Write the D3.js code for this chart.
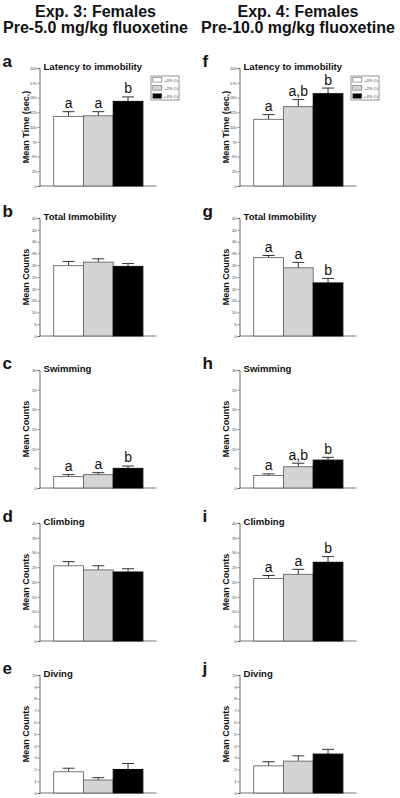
<!DOCTYPE html>
<html><head><meta charset="utf-8">
<script src="https://cdn.jsdelivr.net/npm/d3@7"></script>
<style>
html,body{margin:0;padding:0;background:#fff;}
svg{display:block;font-family:"Liberation Sans",Arial,sans-serif;}
</style></head>
<body><svg id="c" width="400" height="798"></svg>
<script>
// ---- data ----
const groups = ["+0% Cr", "+2% Cr", "+4% Cr"];
const groupColors = ["#ffffff", "#d4d4d4", "#000000"];
const columnHeaders = [
  ["Exp. 3: Females", "Pre-5.0 mg/kg fluoxetine"],
  ["Exp. 4: Females", "Pre-10.0 mg/kg fluoxetine"]
];
const measures = ["Latency to immobility", "Total Immobility", "Swimming", "Climbing", "Diving"];
const yTitles = ["Mean Time (sec.)", "Mean Counts", "Mean Counts", "Mean Counts", "Mean Counts"];
const yMax = [200, 50, 30, 40, 10];
const yStep = [25, 5, 5, 5, 1];
const panelLetters = [["a","b","c","d","e"], ["f","g","h","i","j"]];

// Exp. 3 (left column) means and SEM
const exp3Means = [[118, 119, 143.5], [29.8, 31.3, 29.5], [2.9, 3.4, 5.0], [25.5, 24.1, 23.4], [1.8, 1.1, 2.0]];
const exp3Sem   = [[8, 7, 7.5], [1.8, 1.4, 1.2], [0.5, 0.5, 0.6], [1.4, 1.4, 1.1], [0.3, 0.2, 0.5]];
const exp3Sig   = [["a","a","b"], null, ["a","a","b"], null, null];
// Exp. 4 (right column)
const exp4Means = [[113, 134.5, 156.5], [33.2, 28.9, 22.5], [3.2, 5.4, 7.1], [21.2, 22.6, 26.7], [2.3, 2.7, 3.3]];
const exp4Sem   = [[8, 12, 9.5], [0.9, 2.3, 1.9], [0.4, 0.9, 0.7], [1.0, 1.7, 1.9], [0.35, 0.45, 0.4]];
const exp4Sig   = [["a","a,b","b"], ["a","a","b"], ["a","a,b","b"], ["a","a","b"], null];

// ---- layout ----
const svg = d3.select("#c");
const colAxisX = [39.5, 239.5];
const colCenter = [95.5, 298];
const rowTop = [68, 218, 370, 523, 675];
const plotH = 118;

const cols = [
  {means: exp3Means, sem: exp3Sem, sig: exp3Sig},
  {means: exp4Means, sem: exp4Sem, sig: exp4Sig}
];

columnHeaders.forEach((lines, ci) => {
  lines.forEach((t, li) => {
    svg.append("text").attr("x", colCenter[ci]).attr("y", 17 + li * 15.5)
      .attr("text-anchor", "middle").attr("font-size", 16).attr("font-weight", "bold")
      .attr("fill", "#111").text(t);
  });
});

cols.forEach((col, ci) => {
  const ax = colAxisX[ci];
  measures.forEach((m, ri) => {
    const top = rowTop[ri];
    const bottom = top + plotH;
    const g = svg.append("g");
    const y = d3.scaleLinear().domain([0, yMax[ri]]).range([bottom, top]);
    const x = d3.scaleBand().domain(groups).range([ax + 14.2, ax + 103.4]).padding(0);

    // y axis
    const ticks = d3.range(0, yMax[ri] + yStep[ri] / 2, yStep[ri]);
    const yAxis = d3.axisLeft(y).tickValues(ticks).tickSize(2).tickPadding(0.8).tickFormat(d3.format("d"));
    const ag = g.append("g").attr("transform", `translate(${ax},0)`).call(yAxis);
    ag.select(".domain").attr("stroke", "#555").attr("stroke-width", 0.9);
    ag.selectAll(".tick line").attr("stroke", "#555").attr("stroke-width", 0.7);
    ag.selectAll(".tick text").attr("font-size", 4.2).attr("fill", "#444").attr("font-family", "Liberation Sans, Arial, sans-serif");
    // x axis baseline
    g.append("line").attr("x1", ax).attr("x2", ax + 117).attr("y1", y(0)).attr("y2", y(0))
      .attr("stroke", "#666").attr("stroke-width", 0.9);

    // bars
    groups.forEach((gr, k) => {
      const v = col.means[ri][k], s = col.sem[ri][k];
      const bx = x(gr), bw = x.bandwidth();
      const cx = bx + bw / 2;
      // error bar (upward only)
      g.append("line").attr("x1", cx).attr("x2", cx).attr("y1", y(v)).attr("y2", y(v + s))
        .attr("stroke", "#333").attr("stroke-width", 1);
      g.append("line").attr("x1", cx - 6).attr("x2", cx + 6).attr("y1", y(v + s)).attr("y2", y(v + s))
        .attr("stroke", "#333").attr("stroke-width", 1);
      g.append("rect").attr("x", bx).attr("y", y(v)).attr("width", bw).attr("height", y(0) - y(v))
        .attr("fill", groupColors[k]).attr("stroke", k === 2 ? "#000" : "#666").attr("stroke-width", 0.9);
      if (col.sig[ri]) {
        g.append("text").attr("x", cx).attr("y", y(v + s) - 3.5).attr("text-anchor", "middle")
          .attr("font-size", 14).attr("fill", "#111").text(col.sig[ri][k]);
      }
    });

    // titles
    g.append("text").attr("x", ax + 4).attr("y", top + 1.5).attr("font-size", 9.6).attr("font-weight", "bold")
      .attr("fill", "#111").text(m);
    g.append("text").attr("transform", `translate(${ax - 11},${(top + bottom) / 2}) rotate(-90)`)
      .attr("text-anchor", "middle").attr("font-size", 9).attr("font-weight", "bold").attr("fill", "#111")
      .text(yTitles[ri]);
    g.append("text").attr("x", ax - 37).attr("y", top - 1.5).attr("font-size", 17).attr("font-weight", "bold")
      .attr("fill", "#111").text(panelLetters[ci][ri]);

    // legend on the top panels
    if (ri === 0) {
      const lx = ax + 111.5, ly = top + 8;
      const lg = g.append("g");
      lg.append("rect").attr("x", lx).attr("y", ly).attr("width", 28).attr("height", 24)
        .attr("fill", "#fff").attr("stroke", "#666").attr("stroke-width", 0.7);
      groups.forEach((gr, k) => {
        lg.append("rect").attr("x", lx + 1.8).attr("y", ly + 1.5 + k * 8.1).attr("width", 9).attr("height", 4.6)
          .attr("fill", groupColors[k]).attr("stroke", "#666").attr("stroke-width", 0.6);
        lg.append("text").attr("x", lx + 13).attr("y", ly + 5.6 + k * 8.1).attr("font-size", 4.2)
          .attr("fill", "#333").text(gr);
      });
    }
  });
});
</script></body></html>
